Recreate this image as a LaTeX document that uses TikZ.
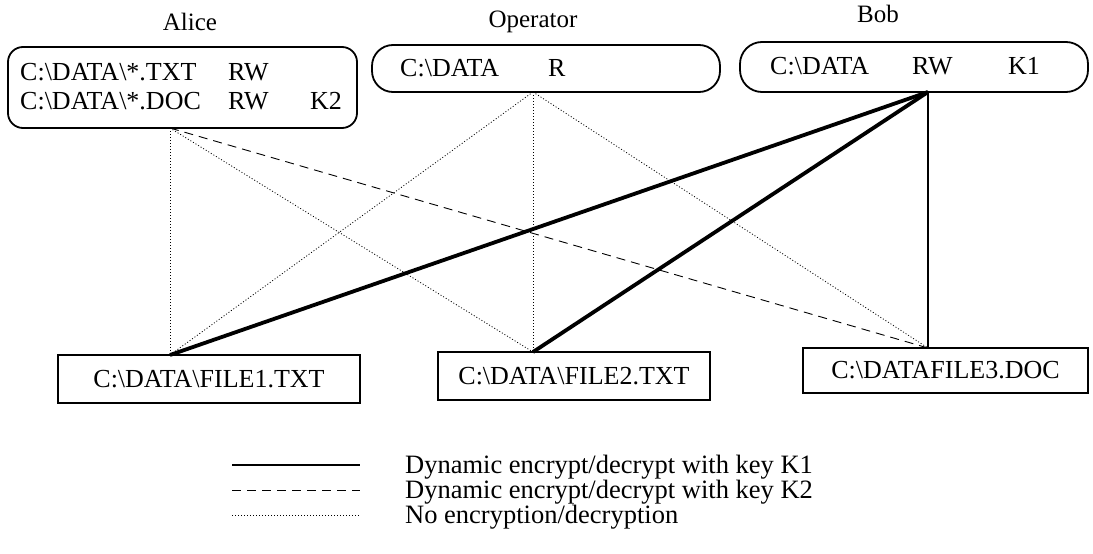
\documentclass[tikz,border=0pt]{standalone}
\usepackage{fontspec}
\setmainfont{Liberation Serif}
\begin{document}
\begin{tikzpicture}[x=1pt,y=-1pt,
  userbox/.style={draw,line width=1.8pt,inner sep=0pt},
  filebox/.style={draw,line width=1.8pt,inner sep=0pt,font=\fontsize{26}{30}\selectfont},
  txt/.style={inner sep=0pt,anchor=west,font=\fontsize{26}{30}\selectfont},
  lbl/.style={inner sep=0pt,font=\fontsize{25}{29}\selectfont},
  legtxt/.style={inner sep=0pt,anchor=west,font=\fontsize{26.5}{30}\selectfont},
  keyone/.style={line width=3.8pt},
  keytwo/.style={line width=0.9pt,dash pattern=on 9pt off 6pt},
  noenc/.style={line width=0.8pt,dash pattern=on 1pt off 2pt},
]
\useasboundingbox (0,0) rectangle (1093,554);
% user labels
\node[lbl] (lalice) at (190,22) {Alice};
\node[lbl] (lop) at (533,22) {Operator};
\node[lbl] (lbob) at (878,14) {Bob};
% user boxes
\node[userbox,rounded corners=15pt,minimum width=349pt,minimum height=81pt] (alice) at (182.5,87.5) {};
\node[userbox,rounded corners=21pt,minimum width=348pt,minimum height=47pt] (oper) at (546,68.5) {};
\node[userbox,rounded corners=22pt,minimum width=348pt,minimum height=50pt] (bob) at (914,67) {};
% box texts
\node[txt] (a1) at (20,72) {C:\textbackslash DATA\textbackslash*.TXT};
\node[txt] (a2) at (228,72) {RW};
\node[txt] (a3) at (20,101) {C:\textbackslash DATA\textbackslash*.DOC};
\node[txt] (a4) at (228,101) {RW};
\node[txt] (a5) at (310,101) {K2};
\node[txt] (o1) at (400,68) {C:\textbackslash DATA};
\node[txt] (o2) at (548,68) {R};
\node[txt] (b1) at (770,66) {C:\textbackslash DATA};
\node[txt] (b2) at (912,66) {RW};
\node[txt] (b3) at (1008,66) {K1};
% file boxes
\node[filebox,minimum width=302pt,minimum height=48pt] (f1) at (209,379) {C:\textbackslash DATA\textbackslash FILE1.TXT};
\node[filebox,minimum width=272pt,minimum height=48pt] (f2) at (574,376) {C:\textbackslash DATA\textbackslash FILE2.TXT};
\node[filebox,minimum width=285pt,minimum height=45pt] (f3) at (945.5,370.5) {C:\textbackslash DATAFILE3.DOC};
% attachment points
\coordinate (pa) at (170,128);
\coordinate (po) at (533,92);
\coordinate (pb) at (928,92);
\coordinate (p1) at (170,355);
\coordinate (p2) at (533,352);
\coordinate (p3) at (928,348);
% connectors
\draw[noenc] (pa) -- (p1);
\draw[noenc] (pa) -- (p2);
\draw[keytwo] (pa) -- (p3);
\draw[noenc] (po) -- (p1);
\draw[noenc] (po) -- (p2);
\draw[noenc] (po) -- (p3);
\draw[keyone] (pb) -- (p1);
\draw[keyone] (pb) -- (p2);
\draw[keyone,line width=2.8pt] (pb) -- (p3);
% legend
\coordinate (l1a) at (232,465); \coordinate (l1b) at (360,465);
\coordinate (l2a) at (232,490); \coordinate (l2b) at (360,490);
\coordinate (l3a) at (232,515); \coordinate (l3b) at (360,515);
\draw[keyone,line width=2.8pt] (l1a) -- (l1b);
\draw[keytwo] (l2a) -- (l2b);
\draw[noenc] (l3a) -- (l3b);
\node[legtxt] (t1) at (405,467) {Dynamic encrypt/decrypt with key K1};
\node[legtxt] (t2) at (405,492) {Dynamic encrypt/decrypt with key K2};
\node[legtxt] (t3) at (405,517) {No encryption/decryption};
\end{tikzpicture}
\end{document}
